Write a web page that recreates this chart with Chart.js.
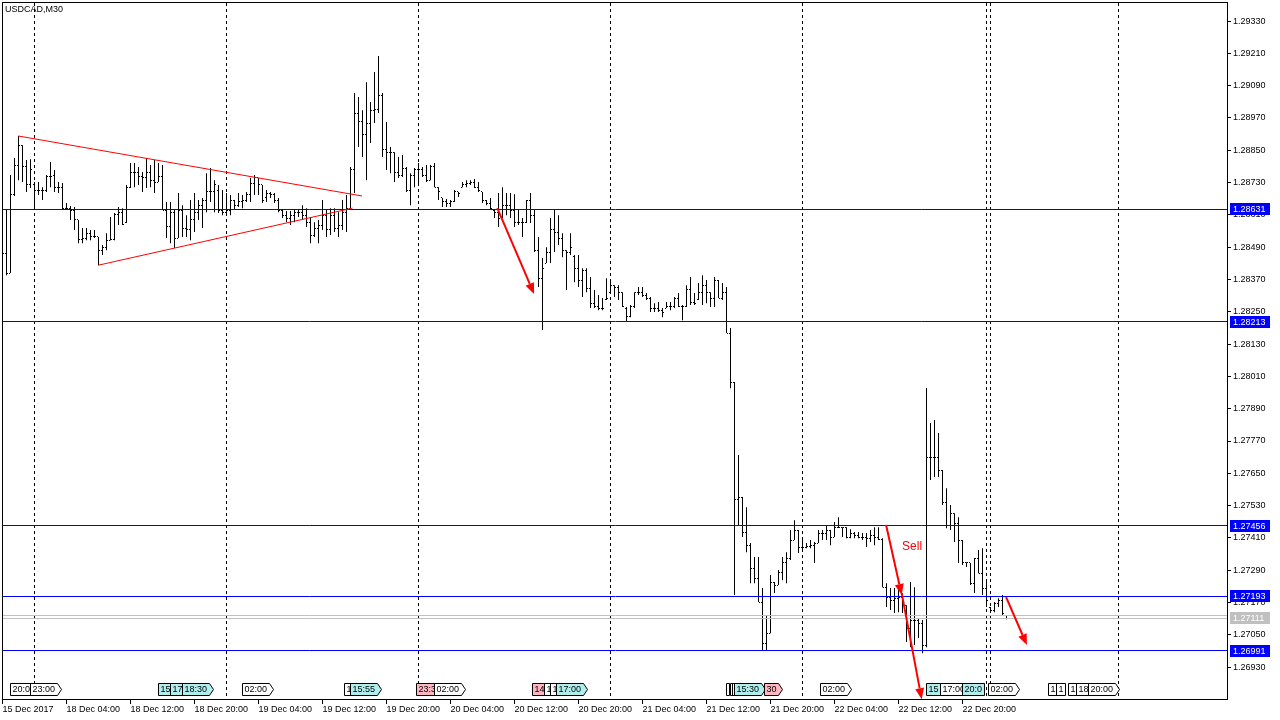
<!DOCTYPE html>
<html>
<head>
<meta charset="utf-8">
<title>USDCAD,M30</title>
<script src="https://cdn.jsdelivr.net/npm/chart.js@4.4.0/dist/chart.umd.min.js"></script>
<style>
html, body { margin: 0; padding: 0; background: #ffffff; }
canvas { display: block; }
</style>
</head>
<body>
<canvas id="priceChart" width="1280" height="720"></canvas>
<script>
// USDCAD M30 bars, bar index 0 = 15 Dec 2017 20:00
var opens = [
    1.28516, 1.28468, 1.28394, 1.28684, 1.28795, 1.28869, 1.28788, 1.28724, 1.28721, 1.28699,
    1.28702, 1.28702, 1.28754, 1.28758, 1.28713, 1.28710, 1.28635, 1.28635, 1.28628, 1.28591,
    1.28520, 1.28524, 1.28542, 1.28528, 1.28528, 1.28479, 1.28487, 1.28516, 1.28520, 1.28613,
    1.28617, 1.28580, 1.28713, 1.28769, 1.28769, 1.28751, 1.28747, 1.28769, 1.28739, 1.28732,
    1.28751, 1.28628, 1.28565, 1.28617, 1.28524, 1.28628, 1.28561, 1.28557, 1.28591, 1.28620,
    1.28646, 1.28665, 1.28695, 1.28695, 1.28702, 1.28628, 1.28620, 1.28628, 1.28665, 1.28646,
    1.28658, 1.28665, 1.28684, 1.28728, 1.28747, 1.28721, 1.28673, 1.28691, 1.28684, 1.28665,
    1.28628, 1.28609, 1.28598, 1.28609, 1.28617, 1.28620, 1.28609, 1.28583, 1.28535, 1.28561,
    1.28572, 1.28609, 1.28554, 1.28609, 1.28561, 1.28572, 1.28620, 1.28635, 1.28777, 1.28988,
    1.28955, 1.28907, 1.28951, 1.28999, 1.29003, 1.29055, 1.28851, 1.28843, 1.28840, 1.28769,
    1.28758, 1.28784, 1.28702, 1.28758, 1.28777, 1.28777, 1.28758, 1.28739, 1.28788, 1.28713,
    1.28673, 1.28658, 1.28654, 1.28658, 1.28695, 1.28713, 1.28724, 1.28728, 1.28732, 1.28713,
    1.28695, 1.28665, 1.28654, 1.28628, 1.28620, 1.28598, 1.28646, 1.28646, 1.28628, 1.28583,
    1.28583, 1.28583, 1.28665, 1.28609, 1.28479, 1.28375, 1.28431, 1.28472, 1.28554, 1.28546,
    1.28524, 1.28479, 1.28472, 1.28457, 1.28412, 1.28368, 1.28405, 1.28338, 1.28282, 1.28271,
    1.28264, 1.28294, 1.28323, 1.28349, 1.28342, 1.28320, 1.28264, 1.28234, 1.28268, 1.28320,
    1.28320, 1.28312, 1.28301, 1.28264, 1.28264, 1.28256, 1.28264, 1.28271, 1.28268, 1.28301,
    1.28268, 1.28268, 1.28331, 1.28286, 1.28294, 1.28320, 1.28349, 1.28320, 1.28301, 1.28368,
    1.28301, 1.28320, 1.28171, 1.27989, 1.27551, 1.27562, 1.27432, 1.27383, 1.27298, 1.27261,
    1.27172, 1.27019, 1.27056, 1.27246, 1.27235, 1.27283, 1.27320, 1.27335, 1.27402, 1.27439,
    1.27376, 1.27376, 1.27380, 1.27383, 1.27391, 1.27428, 1.27428, 1.27439, 1.27413, 1.27450,
    1.27450, 1.27450, 1.27413, 1.27428, 1.27420, 1.27413, 1.27413, 1.27409, 1.27420, 1.27413,
    1.27405, 1.27227, 1.27190, 1.27179, 1.27186, 1.27190, 1.27160, 1.27075, 1.27105, 1.27105,
    1.27094, 1.27012, 1.27707, 1.27707, 1.27707, 1.27662, 1.27543, 1.27458, 1.27502, 1.27465,
    1.27402, 1.27317, 1.27317, 1.27242, 1.27335, 1.27279, 1.27224, 1.27153, 1.27142, 1.27168,
    1.27179, 1.27123
];
var highs = [
    1.28646, 1.28628, 1.28758, 1.28821, 1.28903, 1.28869, 1.28814, 1.28817, 1.28732, 1.28732,
    1.28713, 1.28758, 1.28806, 1.28777, 1.28732, 1.28728, 1.28654, 1.28643, 1.28639, 1.28591,
    1.28561, 1.28561, 1.28554, 1.28554, 1.28528, 1.28498, 1.28542, 1.28602, 1.28617, 1.28639,
    1.28635, 1.28721, 1.28803, 1.28803, 1.28788, 1.28769, 1.28821, 1.28795, 1.28814, 1.28803,
    1.28795, 1.28658, 1.28658, 1.28628, 1.28691, 1.28646, 1.28609, 1.28665, 1.28691, 1.28665,
    1.28673, 1.28765, 1.28784, 1.28739, 1.28721, 1.28702, 1.28691, 1.28684, 1.28665, 1.28691,
    1.28684, 1.28695, 1.28747, 1.28758, 1.28747, 1.28721, 1.28702, 1.28695, 1.28691, 1.28673,
    1.28628, 1.28624, 1.28624, 1.28628, 1.28628, 1.28646, 1.28635, 1.28602, 1.28583, 1.28591,
    1.28665, 1.28628, 1.28635, 1.28635, 1.28620, 1.28665, 1.28684, 1.28788, 1.29063, 1.29048,
    1.28999, 1.29103, 1.29029, 1.29141, 1.29200, 1.29063, 1.28955, 1.28862, 1.28843, 1.28825,
    1.28832, 1.28788, 1.28765, 1.28784, 1.28803, 1.28788, 1.28795, 1.28795, 1.28803, 1.28713,
    1.28673, 1.28669, 1.28665, 1.28702, 1.28695, 1.28732, 1.28739, 1.28739, 1.28743, 1.28732,
    1.28695, 1.28665, 1.28673, 1.28628, 1.28691, 1.28713, 1.28691, 1.28691, 1.28687, 1.28628,
    1.28598, 1.28665, 1.28691, 1.28628, 1.28528, 1.28450, 1.28490, 1.28598, 1.28628, 1.28609,
    1.28542, 1.28479, 1.28542, 1.28461, 1.28461, 1.28412, 1.28412, 1.28379, 1.28331, 1.28312,
    1.28301, 1.28375, 1.28368, 1.28349, 1.28349, 1.28323, 1.28268, 1.28275, 1.28323, 1.28342,
    1.28342, 1.28320, 1.28305, 1.28282, 1.28286, 1.28264, 1.28286, 1.28286, 1.28305, 1.28320,
    1.28275, 1.28349, 1.28379, 1.28320, 1.28357, 1.28386, 1.28368, 1.28323, 1.28379, 1.28368,
    1.28357, 1.28342, 1.28190, 1.27989, 1.27718, 1.27562, 1.27524, 1.27391, 1.27339, 1.27339,
    1.27224, 1.27123, 1.27272, 1.27246, 1.27291, 1.27339, 1.27357, 1.27439, 1.27476, 1.27439,
    1.27410, 1.27391, 1.27402, 1.27395, 1.27439, 1.27439, 1.27458, 1.27439, 1.27469, 1.27487,
    1.27450, 1.27450, 1.27442, 1.27432, 1.27432, 1.27428, 1.27428, 1.27439, 1.27450, 1.27450,
    1.27409, 1.27242, 1.27224, 1.27224, 1.27235, 1.27205, 1.27160, 1.27246, 1.27227, 1.27112,
    1.27105, 1.27967, 1.27837, 1.27848, 1.27800, 1.27662, 1.27595, 1.27532, 1.27502, 1.27487,
    1.27402, 1.27320, 1.27317, 1.27335, 1.27365, 1.27372, 1.27253, 1.27153, 1.27172, 1.27186,
    1.27198, 1.27123
];
var lows = [
    1.28398, 1.28386, 1.28394, 1.28680, 1.28739, 1.28732, 1.28695, 1.28710, 1.28635, 1.28684,
    1.28665, 1.28695, 1.28713, 1.28695, 1.28691, 1.28628, 1.28628, 1.28591, 1.28554, 1.28505,
    1.28505, 1.28516, 1.28516, 1.28524, 1.28423, 1.28461, 1.28479, 1.28516, 1.28516, 1.28572,
    1.28572, 1.28580, 1.28710, 1.28713, 1.28721, 1.28695, 1.28710, 1.28713, 1.28691, 1.28732,
    1.28628, 1.28524, 1.28505, 1.28487, 1.28524, 1.28528, 1.28528, 1.28516, 1.28546, 1.28591,
    1.28561, 1.28620, 1.28658, 1.28620, 1.28617, 1.28609, 1.28609, 1.28609, 1.28628, 1.28639,
    1.28635, 1.28658, 1.28658, 1.28684, 1.28684, 1.28654, 1.28658, 1.28673, 1.28654, 1.28620,
    1.28598, 1.28583, 1.28572, 1.28583, 1.28602, 1.28591, 1.28565, 1.28505, 1.28528, 1.28505,
    1.28554, 1.28528, 1.28535, 1.28546, 1.28528, 1.28554, 1.28546, 1.28635, 1.28691, 1.28862,
    1.28825, 1.28739, 1.28877, 1.28951, 1.28988, 1.28825, 1.28777, 1.28765, 1.28732, 1.28747,
    1.28751, 1.28695, 1.28646, 1.28713, 1.28721, 1.28751, 1.28732, 1.28739, 1.28713, 1.28665,
    1.28639, 1.28639, 1.28639, 1.28658, 1.28676, 1.28713, 1.28713, 1.28721, 1.28710, 1.28695,
    1.28654, 1.28646, 1.28628, 1.28598, 1.28565, 1.28598, 1.28609, 1.28598, 1.28565, 1.28572,
    1.28528, 1.28580, 1.28580, 1.28472, 1.28342, 1.28182, 1.28431, 1.28431, 1.28472, 1.28498,
    1.28453, 1.28331, 1.28461, 1.28360, 1.28342, 1.28305, 1.28323, 1.28264, 1.28264, 1.28256,
    1.28256, 1.28294, 1.28320, 1.28305, 1.28294, 1.28268, 1.28212, 1.28230, 1.28264, 1.28312,
    1.28305, 1.28294, 1.28249, 1.28249, 1.28249, 1.28230, 1.28264, 1.28256, 1.28264, 1.28268,
    1.28219, 1.28268, 1.28275, 1.28275, 1.28294, 1.28275, 1.28282, 1.28268, 1.28268, 1.28301,
    1.28294, 1.28171, 1.27966, 1.27198, 1.27458, 1.27413, 1.27357, 1.27242, 1.27242, 1.27172,
    1.26993, 1.26993, 1.27056, 1.27205, 1.27235, 1.27253, 1.27242, 1.27328, 1.27402, 1.27354,
    1.27365, 1.27372, 1.27372, 1.27317, 1.27391, 1.27402, 1.27402, 1.27383, 1.27413, 1.27447,
    1.27413, 1.27409, 1.27409, 1.27409, 1.27409, 1.27402, 1.27376, 1.27395, 1.27383, 1.27402,
    1.27227, 1.27153, 1.27142, 1.27131, 1.27134, 1.27131, 1.27023, 1.27004, 1.27012, 1.27038,
    1.26982, 1.27004, 1.27625, 1.27636, 1.27636, 1.27532, 1.27446, 1.27439, 1.27395, 1.27317,
    1.27309, 1.27302, 1.27235, 1.27205, 1.27279, 1.27198, 1.27153, 1.27131, 1.27134, 1.27153,
    1.27123, 1.27108
];
var closes = [
    1.28468, 1.28394, 1.28687, 1.28795, 1.28869, 1.28788, 1.28724, 1.28777, 1.28699, 1.28702,
    1.28699, 1.28754, 1.28754, 1.28713, 1.28710, 1.28635, 1.28635, 1.28628, 1.28591, 1.28520,
    1.28524, 1.28542, 1.28528, 1.28528, 1.28479, 1.28487, 1.28516, 1.28520, 1.28613, 1.28617,
    1.28576, 1.28713, 1.28769, 1.28769, 1.28751, 1.28747, 1.28769, 1.28739, 1.28732, 1.28751,
    1.28628, 1.28565, 1.28617, 1.28524, 1.28628, 1.28561, 1.28557, 1.28591, 1.28620, 1.28646,
    1.28665, 1.28695, 1.28695, 1.28721, 1.28628, 1.28620, 1.28628, 1.28665, 1.28646, 1.28658,
    1.28665, 1.28684, 1.28728, 1.28747, 1.28721, 1.28665, 1.28691, 1.28684, 1.28665, 1.28628,
    1.28609, 1.28598, 1.28609, 1.28617, 1.28620, 1.28609, 1.28583, 1.28535, 1.28561, 1.28572,
    1.28609, 1.28554, 1.28609, 1.28561, 1.28572, 1.28620, 1.28635, 1.28777, 1.28988, 1.28955,
    1.28907, 1.28951, 1.28999, 1.29003, 1.29055, 1.28851, 1.28843, 1.28840, 1.28769, 1.28758,
    1.28784, 1.28702, 1.28758, 1.28777, 1.28777, 1.28758, 1.28739, 1.28788, 1.28713, 1.28695,
    1.28658, 1.28654, 1.28658, 1.28695, 1.28691, 1.28724, 1.28728, 1.28732, 1.28713, 1.28702,
    1.28665, 1.28654, 1.28635, 1.28620, 1.28598, 1.28646, 1.28646, 1.28628, 1.28583, 1.28583,
    1.28583, 1.28665, 1.28609, 1.28479, 1.28375, 1.28412, 1.28472, 1.28554, 1.28546, 1.28524,
    1.28479, 1.28472, 1.28487, 1.28412, 1.28368, 1.28405, 1.28338, 1.28282, 1.28271, 1.28264,
    1.28264, 1.28301, 1.28349, 1.28342, 1.28320, 1.28271, 1.28234, 1.28268, 1.28320, 1.28320,
    1.28312, 1.28301, 1.28264, 1.28264, 1.28256, 1.28249, 1.28271, 1.28268, 1.28301, 1.28268,
    1.28268, 1.28331, 1.28286, 1.28282, 1.28320, 1.28349, 1.28320, 1.28301, 1.28368, 1.28301,
    1.28320, 1.28171, 1.27989, 1.27551, 1.27562, 1.27432, 1.27383, 1.27298, 1.27261, 1.27172,
    1.27019, 1.27056, 1.27246, 1.27235, 1.27283, 1.27320, 1.27335, 1.27402, 1.27439, 1.27376,
    1.27376, 1.27380, 1.27383, 1.27391, 1.27428, 1.27428, 1.27439, 1.27413, 1.27450, 1.27450,
    1.27450, 1.27413, 1.27428, 1.27420, 1.27413, 1.27413, 1.27409, 1.27420, 1.27413, 1.27405,
    1.27227, 1.27190, 1.27179, 1.27186, 1.27190, 1.27160, 1.27075, 1.27105, 1.27105, 1.27094,
    1.27012, 1.27707, 1.27707, 1.27707, 1.27662, 1.27543, 1.27458, 1.27502, 1.27465, 1.27402,
    1.27317, 1.27317, 1.27242, 1.27335, 1.27279, 1.27224, 1.27179, 1.27142, 1.27168, 1.27179,
    1.27131, 1.27111
];

var priceTicks = [1.26930, 1.27050, 1.27170, 1.27290, 1.27410, 1.27530, 1.27650, 1.27770,
    1.27890, 1.28010, 1.28130, 1.28250, 1.28370, 1.28490, 1.28610, 1.28730, 1.28850, 1.28970,
    1.29090, 1.29210, 1.29330];
var timeTickBars = [0, 16, 32, 48, 64, 80, 96, 112, 128, 144, 160, 176, 192, 208, 224, 240];
var timeTickLabels = ['15 Dec 2017', '18 Dec 04:00', '18 Dec 12:00', '18 Dec 20:00',
    '19 Dec 04:00', '19 Dec 12:00', '19 Dec 20:00', '20 Dec 04:00', '20 Dec 12:00',
    '20 Dec 20:00', '21 Dec 04:00', '21 Dec 12:00', '21 Dec 20:00', '22 Dec 04:00',
    '22 Dec 12:00', '22 Dec 20:00'];
var separatorBars = [8, 56, 104, 152, 200, 246, 247, 279];

var levelPrices = [1.28631, 1.28213, 1.27456, 1.27193, 1.26991];
var askPrice = 1.27122;
var bidPrice = 1.27111;

// [bar1, price1, bar2, price2]
var trendLines = [
    [3.95, 1.28903, 89.9, 1.28680],
    [23.95, 1.28423, 87.5, 1.28635]
];
var arrowLines = [
    [123.7, 1.28635, 132.9, 1.28316],
    [220.9, 1.27458, 224.8, 1.27198],
    [224.8, 1.27205, 229.8, 1.26811],
    [250.9, 1.27190, 256.1, 1.27012]
];
var sellLabel = [224.9, 1.27376, 'Sell'];

// calendar markers along the bottom: [bar, text, fill, pointed]
var events = [
    [1.9, '20:0', '#ffffff', false], [6.9, '23:00', '#ffffff', true],
    [39.1, '15', '#b0eeee', false], [42.1, '17', '#b0eeee', false], [45.1, '18:30', '#b0eeee', true],
    [60.1, '02:00', '#ffffff', true],
    [85.4, '1', '#ffffff', false], [87.1, '15:55', '#b0eeee', true],
    [103.4, '23:3', '#ffb6c1', false], [108.1, '02:00', '#ffffff', true],
    [132.4, '14', '#ffb6c1', false], [135.6, '1', '#ffffff', false], [137.1, '1', '#ffffff', false],
    [138.4, '17:00', '#b0eeee', true],
    [181.1, '', '#ffffff', false], [181.9, '', '#ffffff', false], [182.6, '', '#ffffff', false],
    [183.1, '15:30', '#b0eeee', true], [190.4, '30', '#ffb6c1', true],
    [204.4, '02:00', '#ffffff', true],
    [231.1, '15', '#b0eeee', false], [234.4, '17:00', '#ffffff', false], [240.1, '20:0', '#b0eeee', false],
    [246.6, '02:00', '#ffffff', true],
    [261.4, '1', '#ffffff', false], [263.4, '1', '#ffffff', false], [266.6, '1', '#ffffff', false],
    [268.4, '18', '#ffffff', false], [271.4, '20:00', '#ffffff', true]
];

var FONT = "'Liberation Sans', Arial, sans-serif";

function crisp(v) {
    return Math.round(v - 0.5) + 0.5;
}

function drawArrow(ctx, x1, y1, x2, y2) {
    var a = Math.atan2(y2 - y1, x2 - x1);
    var len = 11, half = 4.5;
    var bx = x2 - len * Math.cos(a), by = y2 - len * Math.sin(a);
    ctx.lineWidth = 2;
    ctx.beginPath();
    ctx.moveTo(x1, y1);
    ctx.lineTo(bx, by);
    ctx.stroke();
    ctx.beginPath();
    ctx.moveTo(x2, y2);
    ctx.lineTo(bx + half * Math.sin(a), by - half * Math.cos(a));
    ctx.lineTo(bx - half * Math.sin(a), by + half * Math.cos(a));
    ctx.closePath();
    ctx.fill();
}

var terminalLook = {
    id: 'terminalLook',
    beforeDatasetsDraw: function (chart) {
        var ctx = chart.ctx, a = chart.chartArea, xs = chart.scales.x;
        ctx.save();
        ctx.strokeStyle = '#000000';
        ctx.lineWidth = 1;
        ctx.setLineDash([3, 3]);
        separatorBars.forEach(function (b) {
            var px = crisp(xs.getPixelForValue(b));
            ctx.beginPath();
            ctx.moveTo(px, a.top);
            ctx.lineTo(px, a.bottom);
            ctx.stroke();
        });
        ctx.restore();
    },
    afterDatasetsDraw: function (chart) {
        var ctx = chart.ctx, a = chart.chartArea, xs = chart.scales.x, ys = chart.scales.y;
        ctx.save();
        ctx.beginPath();
        ctx.rect(a.left, a.top, a.right - a.left, a.bottom - a.top);
        ctx.clip();

        // open / close ticks
        ctx.fillStyle = '#000000';
        for (var i = 0; i < opens.length; i++) {
            var col = Math.floor(xs.getPixelForValue(i));
            ctx.fillRect(col - 1, Math.round(ys.getPixelForValue(opens[i]) - 0.5), 1, 1);
            ctx.fillRect(col + 1, Math.round(ys.getPixelForValue(closes[i]) - 0.5), 1, 1);
        }

        // bid / ask
        ctx.strokeStyle = '#c0c0c0';
        ctx.lineWidth = 1;
        [askPrice, bidPrice].forEach(function (p) {
            var py = crisp(ys.getPixelForValue(p));
            ctx.beginPath();
            ctx.moveTo(a.left, py);
            ctx.lineTo(a.right, py);
            ctx.stroke();
        });

        // horizontal levels
        ctx.strokeStyle = '#0000ff';
        levelPrices.forEach(function (p) {
            var py = crisp(ys.getPixelForValue(p));
            ctx.beginPath();
            ctx.moveTo(a.left, py);
            ctx.lineTo(a.right, py);
            ctx.stroke();
        });

        // triangle trend lines
        ctx.strokeStyle = '#ff0000';
        ctx.lineWidth = 1;
        trendLines.forEach(function (t) {
            ctx.beginPath();
            ctx.moveTo(xs.getPixelForValue(t[0]), ys.getPixelForValue(t[1]));
            ctx.lineTo(xs.getPixelForValue(t[2]), ys.getPixelForValue(t[3]));
            ctx.stroke();
        });
        ctx.restore();

        // arrows
        ctx.save();
        ctx.strokeStyle = '#ff0000';
        ctx.fillStyle = '#ff0000';
        arrowLines.forEach(function (r) {
            drawArrow(ctx, xs.getPixelForValue(r[0]), ys.getPixelForValue(r[1]),
                xs.getPixelForValue(r[2]), ys.getPixelForValue(r[3]));
        });
        ctx.font = '12px ' + FONT;
        ctx.textBaseline = 'middle';
        ctx.textAlign = 'left';
        ctx.fillText(sellLabel[2], xs.getPixelForValue(sellLabel[0]), ys.getPixelForValue(sellLabel[1]));
        ctx.restore();
    },
    afterDraw: function (chart) {
        var ctx = chart.ctx, a = chart.chartArea, xs = chart.scales.x, ys = chart.scales.y;
        ctx.save();

        // calendar markers
        ctx.font = '9px ' + FONT;
        ctx.textBaseline = 'middle';
        ctx.textAlign = 'left';
        var top = a.bottom - 16.5, bot = a.bottom - 4.5, mid = (top + bot) / 2;
        events.forEach(function (e) {
            var x0 = Math.floor(xs.getPixelForValue(e[0])) + 0.5;
            var w = e[1] ? Math.round(ctx.measureText(e[1]).width) + 4 : 3;
            ctx.beginPath();
            ctx.moveTo(x0, top);
            ctx.lineTo(x0 + w, top);
            if (e[3]) ctx.lineTo(x0 + w + 4, mid);
            ctx.lineTo(x0 + w, bot);
            ctx.lineTo(x0, bot);
            ctx.closePath();
            ctx.fillStyle = e[2];
            ctx.fill();
            ctx.strokeStyle = '#000000';
            ctx.lineWidth = 1;
            ctx.stroke();
            if (e[1]) {
                ctx.fillStyle = '#000000';
                ctx.fillText(e[1], x0 + 2, mid + 0.5);
            }
        });

        // frame
        ctx.strokeStyle = '#000000';
        ctx.lineWidth = 1;
        ctx.strokeRect(a.left - 0.5, a.top - 0.5, a.right - a.left, a.bottom - a.top);

        // price labels on the axis
        function priceBox(p, bg) {
            var py = Math.round(ys.getPixelForValue(p));
            ctx.fillStyle = bg;
            ctx.fillRect(a.right + 2, py - 6, 40, 12);
            ctx.fillStyle = '#ffffff';
            ctx.fillText(p.toFixed(5), a.right + 5, py + 0.5);
        }
        levelPrices.forEach(function (p) { priceBox(p, '#0000ff'); });
        priceBox(bidPrice, '#c0c0c0');

        // symbol caption
        ctx.fillStyle = '#000000';
        ctx.fillText('USDCAD,M30', 5, 10);
        ctx.restore();
    }
};

var barData = highs.map(function (h, i) {
    return { x: i, y: [lows[i], h] };
});

var ctx = document.getElementById('priceChart').getContext('2d');
var myChart = new Chart(ctx, {
    type: 'bar',
    data: {
        datasets: [
            {
                label: 'USDCAD',
                data: barData,
                backgroundColor: '#000000',
                borderWidth: 0,
                barThickness: 1,
                inflateAmount: 0,
                grouped: false
            }
        ]
    },
    options: {
        responsive: false,
        animation: false,
        events: [],
        layout: { padding: { left: 3, top: 3, right: 0, bottom: 0 } },
        plugins: {
            legend: { display: false },
            tooltip: { enabled: false }
        },
        scales: {
            x: {
                type: 'linear',
                min: 0.125,
                max: 306.375,
                bounds: 'data',
                offset: false,
                afterBuildTicks: function (s) {
                    s.ticks = timeTickBars.map(function (v) { return { value: v }; });
                },
                afterFit: function (s) {
                    s.height = 20;
                    s.paddingLeft = 0;
                    s.paddingRight = 0;
                },
                ticks: {
                    autoSkip: false,
                    maxRotation: 0,
                    minRotation: 0,
                    align: 'start',
                    padding: 0,
                    color: '#000000',
                    font: { family: FONT, size: 9 },
                    callback: function (v, idx) { return timeTickLabels[idx]; }
                },
                grid: { offset: false, drawOnChartArea: false, drawTicks: true, tickLength: 4, color: '#000000' },
                border: { display: false }
            },
            y: {
                type: 'linear',
                position: 'right',
                min: 1.26808,
                max: 1.29397,
                bounds: 'data',
                beginAtZero: false,
                afterBuildTicks: function (s) {
                    s.ticks = priceTicks.map(function (v) { return { value: v }; });
                },
                afterFit: function (s) {
                    s.width = 52;
                    s.paddingTop = 0;
                    s.paddingBottom = 0;
                },
                ticks: {
                    autoSkip: false,
                    padding: 2,
                    color: '#000000',
                    font: { family: FONT, size: 9 },
                    callback: function (v) { return v.toFixed(5); }
                },
                grid: { drawOnChartArea: false, drawTicks: true, tickLength: 3, color: '#000000' },
                border: { display: false }
            }
        }
    },
    plugins: [terminalLook]
});
</script>
</body>
</html>
